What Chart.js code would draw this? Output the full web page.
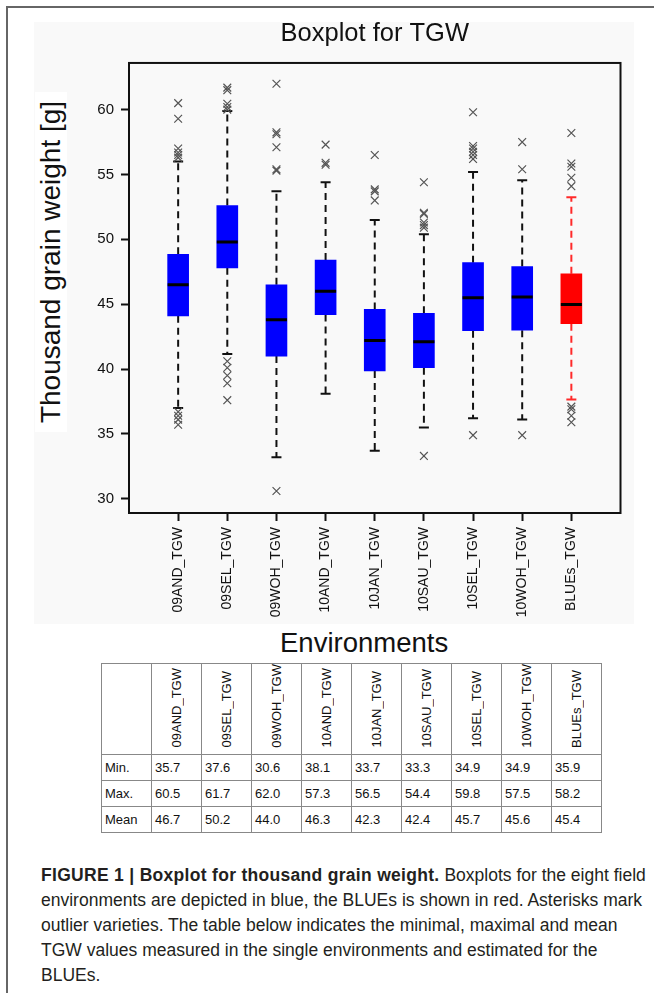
<!DOCTYPE html>
<html>
<head>
<meta charset="utf-8">
<script src="https://cdn.jsdelivr.net/npm/chart.js@4.4.1/dist/chart.umd.min.js"></script>
<style>
  html, body { margin: 0; padding: 0; background: #fff; }
  body { width: 654px; height: 993px; position: relative; overflow: hidden;
         font-family: "Liberation Sans", Arial, sans-serif; color: #111; }
  #border { position: absolute; left: 6px; top: 6px; width: 700px; height: 1100px;
            border-left: 2px solid #666; border-top: 2px solid #666; }
  #panel { position: absolute; left: 34px; top: 22px; width: 600px; height: 602px; background: #f9f9f9; }
  #ytitle { position: absolute; left: 35px; top: 92px; width: 32px; height: 340px; background: #fff; }
  #ytitle span { position: absolute; left: 50%; top: 50%; white-space: nowrap; font-size: 28px; line-height: 28px;
                 transform: translate(-50%, -50%) rotate(-90deg); }
  #xtitle { position: absolute; left: 280px; top: 629px; font-size: 27.5px; line-height: 28px; }
  #stats { position: absolute; left: 101px; top: 663px; width: 501px; border-collapse: collapse; table-layout: fixed;
           font-size: 13px; color: #111; }
  #stats td, #stats th { border: 1px solid #888; padding: 0 0 0 3px; height: 25px;
                         text-align: left; font-weight: normal; overflow: hidden; white-space: nowrap; }
  #stats th { width: 49px; height: 84px; vertical-align: bottom; text-align: center; padding: 0 0 3px 0; }
  #stats th div { writing-mode: vertical-rl; transform: rotate(180deg); display: inline-block; }
  #stats tbody tr + tr td { border-top-color: #444; }
  #caption { position: absolute; left: 41px; top: 863px; width: 613px; font-size: 17.5px; line-height: 25px;
             color: #231f20; white-space: nowrap; }
  #caption b { letter-spacing: 0.3px; }
</style>
</head>
<body>
<div id="border"></div>
<div id="panel"><canvas id="chart" width="600" height="602"></canvas></div>
<div id="ytitle"><span>Thousand grain weight [g]</span></div>
<div id="xtitle">Environments</div>
<table id="stats"><thead><tr id="head"></tr></thead><tbody id="body"></tbody></table>
<div id="caption"><b>FIGURE 1 | Boxplot for thousand grain weight.</b> Boxplots for the eight field<br>environments are depicted in blue, the BLUEs is shown in red. Asterisks mark<br>outlier varieties. The table below indicates the minimal, maximal and mean<br>TGW values measured in the single environments and estimated for the<br>BLUEs.</div>
<script>
// boxplot values
const categories = ['09AND_TGW', '09SEL_TGW', '09WOH_TGW', '10AND_TGW', '10JAN_TGW',
                    '10SAU_TGW', '10SEL_TGW', '10WOH_TGW', 'BLUEs_TGW'];
const q1 = [44.1, 47.8, 41.0, 44.2, 39.85, 40.1, 42.95, 43.0, 43.5];
const medians = [46.5, 49.8, 43.8, 46.0, 42.2, 42.1, 45.5, 45.55, 44.97];
const q3 = [48.85, 52.6, 46.5, 48.4, 44.6, 44.3, 48.2, 47.9, 47.35];
const whiskerLow = [37.0, 41.15, 33.2, 38.1, 33.7, 35.5, 36.2, 36.1, 37.65];
const whiskerHigh = [56.0, 59.9, 53.7, 54.4, 51.5, 50.4, 55.2, 54.55, 53.25];
const outliers = [
    [60.5, 59.3, 57.0, 56.7, 56.5, 56.3, 36.7, 36.4, 36.1, 35.7],
    [61.7, 61.5, 60.45, 60.2, 60.0, 40.6, 40.1, 39.5, 38.9, 37.6],
    [62.0, 58.25, 58.1, 57.1, 55.4, 55.3, 30.6],
    [57.3, 55.9, 55.75],
    [56.5, 53.85, 53.7, 53.0],
    [54.4, 52.05, 51.95, 51.3, 51.1, 50.9, 33.3],
    [59.8, 57.2, 57.0, 56.75, 56.5, 56.2, 34.9],
    [57.5, 55.4, 34.9],
    [58.2, 55.85, 55.6, 54.75, 54.1, 37.1, 36.9, 36.4, 35.9]
];
const yTicks = [30, 35, 40, 45, 50, 55, 60];
const boxColors = ['#0000ff', '#0000ff', '#0000ff', '#0000ff', '#0000ff', '#0000ff', '#0000ff', '#0000ff', '#ff0000'];
const whiskerColors = ['#111', '#111', '#111', '#111', '#111', '#111', '#111', '#111', '#ff2a2a'];

// table under the plot
const rowNames = ['Min.', 'Max.', 'Mean'];
const minVals = ['35.7', '37.6', '30.6', '38.1', '33.7', '33.3', '34.9', '34.9', '35.9'];
const maxVals = ['60.5', '61.7', '62.0', '57.3', '56.5', '54.4', '59.8', '57.5', '58.2'];
const meanVals = ['46.7', '50.2', '44.0', '46.3', '42.3', '42.4', '45.7', '45.6', '45.4'];

const head = document.getElementById('head');
head.innerHTML = '<th></th>' + categories.map(c => `<th><div>${c}</div></th>`).join('');
const body = document.getElementById('body');
[minVals, maxVals, meanVals].forEach((vals, r) => {
    const tr = document.createElement('tr');
    tr.innerHTML = `<td>${rowNames[r]}</td>` + vals.map(v => `<td>${v}</td>`).join('');
    body.appendChild(tr);
});

Chart.defaults.font.family = '"Liberation Sans", Arial, sans-serif';
Chart.defaults.color = '#111';

const pos = categories.map((c, i) => i + 1);

const whiskerSets = pos.map((x, i) => ({
    type: 'line',
    data: [{x, y: q3[i]}, {x, y: whiskerHigh[i]}, {x, y: null}, {x, y: q1[i]}, {x, y: whiskerLow[i]}],
    borderColor: whiskerColors[i],
    borderWidth: 2,
    borderDash: [7, 5],
    pointRadius: 0,
    spanGaps: false,
    order: 4
}));

const capData = [];
const capColors = [];
pos.forEach((x, i) => {
    capData.push({x, y: whiskerHigh[i]}, {x, y: whiskerLow[i]});
    capColors.push(whiskerColors[i], whiskerColors[i]);
});

const outlierData = [];
outliers.forEach((list, i) => list.forEach(v => outlierData.push({x: pos[i], y: v})));

const frame = {
    id: 'frame',
    afterDraw(chart) {
        const {ctx, chartArea: a} = chart;
        ctx.save();
        ctx.strokeStyle = '#111';
        ctx.lineWidth = 2;
        ctx.strokeRect(a.left, a.top, a.right - a.left, a.bottom - a.top);
        ctx.restore();
    }
};

new Chart(document.getElementById('chart'), {
    type: 'bar',
    data: {
        datasets: [
            {
                type: 'scatter',
                data: pos.map((x, i) => ({x, y: medians[i]})),
                pointStyle: 'line',
                pointRadius: 10.5,
                pointBorderWidth: 3,
                pointBorderColor: '#000',
                order: 0
            },
            {
                type: 'scatter',
                data: outlierData,
                pointStyle: 'crossRot',
                pointRadius: 5.5,
                pointBorderWidth: 1.2,
                pointBorderColor: '#555',
                order: 1
            },
            {
                type: 'scatter',
                data: capData,
                pointStyle: 'line',
                pointRadius: 5,
                pointBorderWidth: 2,
                pointBorderColor: capColors,
                order: 2
            },
            {
                type: 'bar',
                data: pos.map((x, i) => ({x, y: [q1[i], q3[i]]})),
                backgroundColor: boxColors,
                borderWidth: 0,
                barThickness: 21,
                order: 3
            },
            ...whiskerSets
        ]
    },
    options: {
        responsive: false,
        animation: false,
        events: [],
        layout: { padding: { top: 0, right: 1, bottom: 0, left: 0 } },
        plugins: {
            legend: { display: false },
            tooltip: { enabled: false },
            title: {
                display: true,
                text: 'Boxplot for TGW',
                fullSize: false,
                color: '#111',
                font: { size: 25.5, weight: 'normal', lineHeight: 0.9 },
                padding: { top: 0, bottom: 18 }
            }
        },
        scales: {
            x: {
                type: 'linear',
                min: 0,
                max: 10,
                offset: false,
                afterBuildTicks: s => { s.ticks = pos.map(v => ({value: v})); },
                afterFit: s => { s.height = 111; },
                grid: { offset: false, drawOnChartArea: false, tickLength: 8, tickColor: '#111', tickWidth: 2 },
                border: { display: false },
                ticks: {
                    autoSkip: false,
                    minRotation: 90,
                    maxRotation: 90,
                    padding: 6,
                    font: { size: 14 },
                    callback: v => categories[v - 1]
                }
            },
            y: {
                min: 28.9,
                max: 63.6,
                afterBuildTicks: s => { s.ticks = yTicks.map(v => ({value: v})); },
                afterFit: s => { s.width = 95; },
                grid: { drawOnChartArea: false, tickLength: 8, tickColor: '#111', tickWidth: 2 },
                border: { display: false },
                ticks: { padding: 7, font: { size: 15 } }
            }
        }
    },
    plugins: [frame]
});
</script>
</body>
</html>
